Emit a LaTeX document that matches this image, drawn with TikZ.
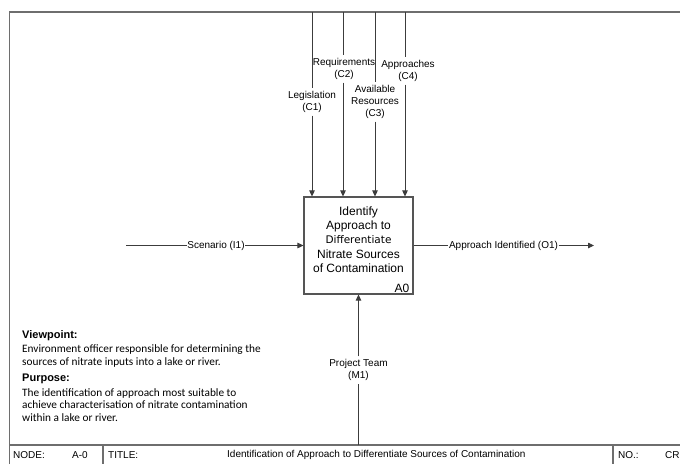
\documentclass[tikz,border=0pt]{standalone}
\usepackage{fontspec}
\setmainfont{Liberation Sans}
\newfontfamily\calfont{Carlito}
\newfontfamily\dvfont{DejaVu Sans}
\usetikzlibrary{arrows.meta, positioning, calc}
\definecolor{linegray}{HTML}{3C3C3C}
\definecolor{framegray}{HTML}{6E6E6E}
\definecolor{boxgray}{HTML}{555555}
\tikzset{
  lbl/.style={font=\fontsize{10}{11.7}\selectfont, align=center,
              inner xsep=0.5pt, inner ysep=3pt},
  fnbox/.style={draw=boxgray, line width=1.1pt, minimum width=109pt,
                minimum height=97pt, inner sep=0pt},
  boxtxt/.style={font=\fontsize{12}{14.3}\selectfont, align=center, inner sep=0pt},
  flow/.style={-{Triangle[length=6pt, width=5.5pt]}, line width=0.8pt, draw=linegray},
  wire/.style={line width=0.8pt, draw=linegray},
  frame/.style={line width=1.3pt, draw=framegray},
  bar/.style={font=\fontsize{10}{12}\selectfont, inner sep=0pt},
  head/.style={font=\fontsize{11}{13}\selectfont\bfseries, anchor=west, inner sep=0pt},
  body/.style={font=\calfont\fontsize{11.3}{12.6}\selectfont, anchor=west,
               align=left, inner sep=0pt},
}
\newcommand{\diffword}[1]{{\dvfont\fontsize{10.5}{14.3}\selectfont #1}}

\begin{document}
\begin{tikzpicture}[x=1pt, y=-1pt]
  \useasboundingbox (0,0) rectangle (680,464);
  \fill[white] (0,0) rectangle (680,464);
  % sheet frame and title bar
  \draw[frame] (9.5,464) -- (9.5,12) -- (680,12);
  \draw[frame] (9.5,445) -- (680,445);
  \draw[frame] (103,445) -- (103,464);
  \draw[frame] (613,445) -- (613,464);
  \node[bar, anchor=west] (nodekey) at (13,455) {NODE:};
  \node[bar, anchor=east] (nodeval) at (88,455) {A-0};
  \node[bar, anchor=west] (titlekey) at (108,455) {TITLE:};
  \node[bar, anchor=west] (titleval) at (227,455)
    {Identification of Approach to Differentiate Sources of Contamination};
  \node[bar, anchor=west] (nokey) at (618,455) {NO.:};
  \node[bar, anchor=west] (noval) at (665,455) {CR};

  % activity box
  \node[fnbox] (A0box) at (358.5,245.5) {};
  \node[boxtxt] (A0txt) at (358.5,239.5)
    {Identify\\Approach to\\\diffword{Differentiate}\\Nitrate Sources\\of Contamination};
  \node[boxtxt, anchor=south east, inner xsep=4pt, inner ysep=1.5pt] (A0num)
    at (A0box.south east) {A0};

  % controls
  \foreach \cx/\lx/\cy/\cn/\ctxt in {312/312/102/c1/{Legislation\\(C1)},
      343/344/69/c2/{Requirements\\(C2)},
      375/375/102/c3/{Available\\Resources\\(C3)},
      405/408/71/c4/{Approaches\\(C4)}}{
    \coordinate (top\cn) at (\cx,12);
    \node[lbl] (lbl\cn) at (\lx,\cy) {\ctxt};
    \draw[wire] (top\cn) -- (top\cn |- lbl\cn.north);
    \draw[flow] (top\cn |- lbl\cn.south) -- (top\cn |- A0box.north);
  }

  % input
  \coordinate (srcI1) at (126,245.5);
  \node[lbl] (lblI1) at (216,245.5) {Scenario (I1)};
  \draw[wire] (srcI1) -- (lblI1.west);
  \draw[flow] (lblI1.east) -- (A0box.west);

  % output
  \coordinate (dstO1) at (594,245.5);
  \node[lbl] (lblO1) at (503.5,245.5) {Approach Identified (O1)};
  \draw[wire] (A0box.east) -- (lblO1.west);
  \draw[flow] (lblO1.east) -- (dstO1);

  % mechanism
  \coordinate (srcM1) at (358.5,445);
  \node[lbl] (lblM1) at (358.5,370) {Project Team\\(M1)};
  \draw[wire] (srcM1) -- (lblM1.south);
  \draw[flow] (lblM1.north) -- (A0box.south);

  % viewpoint and purpose
  \node[head] (vphead) at (22,336) {Viewpoint:};
  \node[body] (vpbody) at (22,356)
    {Environment officer responsible for determining the\\sources of nitrate inputs into a lake or river.};
  \node[head] (pphead) at (22,379) {Purpose:};
  \node[body] (ppbody) at (22,405)
    {The identification of approach most suitable to\\achieve characterisation of nitrate contamination\\within a lake or river.};
\end{tikzpicture}
\end{document}
